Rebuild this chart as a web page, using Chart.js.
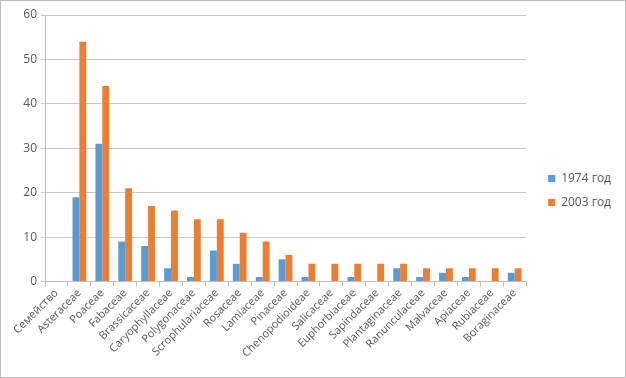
<!DOCTYPE html>
<html>
<head>
<meta charset="utf-8">
<script src="https://cdn.jsdelivr.net/npm/chart.js@4/dist/chart.umd.min.js"></script>
<style>
  html, body { margin: 0; padding: 0; background: #fff; }
  #wrap {
    width: 626px; height: 378px; box-sizing: border-box;
    border: 1px solid #bcbcbc; position: relative;
  }
  canvas { display: block; }
</style>
</head>
<body>
<div id="wrap"><canvas id="chart" width="624" height="376"></canvas></div>
<script>
// Данные диаграммы
const families = [
  "Семейство", "Asteraceae", "Poaceae", "Fabaceae", "Brassicaceae",
  "Caryophyllaceae", "Polygonaceae", "Scrophulariaceae", "Rosaceae",
  "Lamiaceae", "Pinaceae", "Chenopodioideae", "Salicaceae", "Euphorbiaceae",
  "Sapindaceae", "Plantaginaceae", "Ranunculaceae", "Malvaceae", "Apiaceae",
  "Rubiaceae", "Boraginaceae"
];
const values1974 = [null, 19, 31, 9, 8, 3, 1, 7, 4, 1, 5, 1, 0, 1, 0, 3, 1, 2, 1, 0, 2];
const values2003 = [null, 54, 44, 21, 17, 16, 14, 14, 11, 9, 6, 4, 4, 4, 4, 4, 3, 3, 3, 3, 3];
const seriesLabels = ["1974 год", "2003 год"];
const yTicks = [0, 10, 20, 30, 40, 50, 60];

const blue = "#5b9bd5";
const orange = "#ed7d31";
const textColor = "#595959";
const fontFamily = "'Open Sans', 'Liberation Sans', sans-serif";

// сдвиг легенды вправо и вниз, как в оригинале
const legendShift = {
  id: "legendShift",
  afterInit(chart) {
    const legend = chart.legend;
    const fit = legend.fit;
    legend.fit = function () {
      fit.call(this);
      this.width += 10;
    };
  },
  afterLayout(chart) {
    chart.legend.left += 10;
    chart.legend.right += 10;
    chart.legend.top += 3;
    chart.legend.bottom += 3;
  },
};

const ctx = document.getElementById("chart").getContext("2d");
new Chart(ctx, {
  type: "bar",
  data: {
    labels: families,
    datasets: [
      {
        label: seriesLabels[0],
        data: values1974,
        backgroundColor: blue,
        categoryPercentage: 0.6,
        barPercentage: 1,
      },
      {
        label: seriesLabels[1],
        data: values2003,
        backgroundColor: orange,
        categoryPercentage: 0.6,
        barPercentage: 1,
      },
    ],
  },
  plugins: [legendShift],
  options: {
    responsive: false,
    animation: false,
    devicePixelRatio: 1,
    layout: { padding: { left: 4, right: 4, top: 14, bottom: 17 } },
    plugins: {
      legend: {
        position: "right",
        labels: {
          color: textColor,
          font: { family: fontFamily, size: 12 },
          boxWidth: 7,
          boxHeight: 7,
          padding: 12,
        },
      },
      tooltip: { enabled: false },
    },
    scales: {
      x: {
        grid: {
          display: true,
          drawOnChartArea: false,
          offset: true,
          color: "#bfbfbf",
          tickLength: 5,
        },
        border: { color: "#bfbfbf" },
        ticks: {
          color: textColor,
          font: { family: fontFamily, size: 11 },
          maxRotation: 45,
          minRotation: 45,
          autoSkip: false,
          padding: 0,
        },
      },
      y: {
        min: 0,
        max: 60,
        afterBuildTicks: (axis) => {
          axis.ticks = yTicks.map((v) => ({ value: v }));
        },
        afterFit: (axis) => {
          axis.width = 40;
        },
        grid: { color: "#c8c8c8", tickLength: 4 },
        border: { color: "#bfbfbf" },
        ticks: { color: textColor, font: { family: fontFamily, size: 12 }, padding: 4 },
      },
    },
  },
});
</script>
</body>
</html>
